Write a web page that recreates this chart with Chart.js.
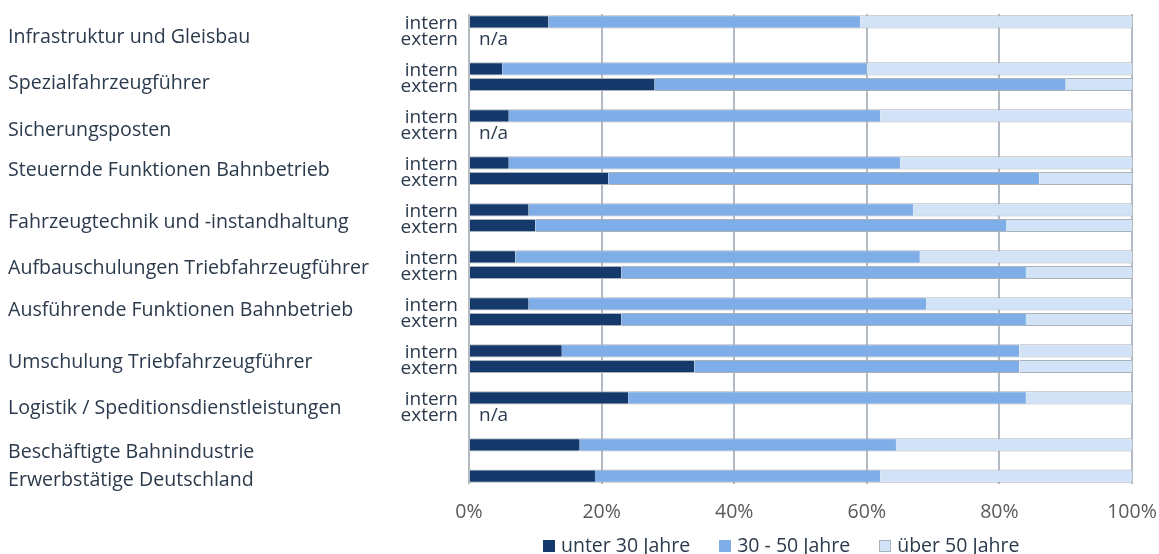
<!DOCTYPE html>
<html lang="de">
<head>
<meta charset="utf-8">
<title>Altersstruktur</title>
<script src="https://cdn.jsdelivr.net/npm/chart.js@4.4.1/dist/chart.umd.min.js"></script>
<style>
  body { margin: 0; background: #fff; font-family: 'Open Sans', sans-serif; }
  #wrap { position: relative; width: 1159px; height: 554px; }
  #legende { position: absolute; left: 543px; top: 532px; display: flex; font-size: 19.5px; color: #2b3a4c; line-height: 26px; }
  #legende .eintrag { display: flex; align-items: center; margin-right: 29px; }
  #legende .box { width: 12px; height: 12px; margin-right: 6px; margin-top: 2px; box-sizing: border-box; }
</style>
</head>
<body>
<div id="wrap">
  <canvas id="chartAlter" width="1159" height="554"></canvas>
  <div id="legende"></div>
</div>
<script>
// Tätigkeitsbereiche (jeweils intern / extern)
const bereiche = [
  'Infrastruktur und Gleisbau',
  'Spezialfahrzeugführer',
  'Sicherungsposten',
  'Steuernde Funktionen Bahnbetrieb',
  'Fahrzeugtechnik und -instandhaltung',
  'Aufbauschulungen Triebfahrzeugführer',
  'Ausführende Funktionen Bahnbetrieb',
  'Umschulung Triebfahrzeugführer',
  'Logistik / Speditionsdienstleistungen'
];

// Anteile in %, null = n/a
const internUnter30 = [12, 5, 6, 6, 9, 7, 9, 14, 24];
const intern30bis50 = [47, 55, 56, 59, 58, 61, 60, 69, 60];
const internUeber50 = [41, 40, 38, 35, 33, 32, 31, 17, 16];

const externUnter30 = [null, 28, null, 21, 10, 23, 23, 34, null];
const extern30bis50 = [null, 62, null, 65, 71, 61, 61, 49, null];
const externUeber50 = [null, 10, null, 14, 19, 16, 16, 17, null];

// Vergleichswerte
const vergleich = ['Beschäftigte Bahnindustrie', 'Erwerbstätige Deutschland'];
const vergleichUnter30 = [16.7, 19];
const vergleich30bis50 = [47.7, 43];
const vergleichUeber50 = [35.6, 38];

const xTicks = [0, 20, 40, 60, 80, 100];

const serien = ['unter 30 Jahre', '30 - 50 Jahre', 'über 50 Jahre'];
const farben = ['#15396b', '#7eade8', '#d3e3f7'];
const textFarbe = '#2b3a4c';

// Zeilen aufbauen: intern, extern, Leerzeile pro Bereich, danach die Vergleichszeilen
let zeilen = [];
let dUnter30 = [], d30bis50 = [], dUeber50 = [];
for (let i = 0; i < bereiche.length; i++) {
  zeilen.push('intern', 'extern', '');
  dUnter30.push(internUnter30[i], externUnter30[i], null);
  d30bis50.push(intern30bis50[i], extern30bis50[i], null);
  dUeber50.push(internUeber50[i], externUeber50[i], null);
}
for (let i = 0; i < vergleich.length; i++) {
  if (i > 0) {
    zeilen.push('');
    dUnter30.push(null); d30bis50.push(null); dUeber50.push(null);
  }
  zeilen.push('');
  dUnter30.push(vergleichUnter30[i]);
  d30bis50.push(vergleich30bis50[i]);
  dUeber50.push(vergleichUeber50[i]);
}

// Position der Bereichstitel (in Zeilen der y-Achse)
const titel = bereiche.concat(vergleich);
const titelPos = [0.98, 3.96, 6.94, 9.48, 12.79, 15.77, 18.41, 21.72, 24.7, 27.47, 29.28];

// Titel links und "n/a" bei fehlenden externen Werten
const beschriftung = {
  id: 'beschriftung',
  afterDraw(chart) {
    const ctx = chart.ctx;
    const sy = chart.scales.y;
    const sx = chart.scales.x;
    ctx.save();
    ctx.fillStyle = textFarbe;
    ctx.textBaseline = 'middle';
    ctx.textAlign = 'left';
    ctx.font = '19.6px "Open Sans"';
    titel.forEach(function (t, i) {
      ctx.fillText(t, 8, sy.getPixelForValue(titelPos[i]));
    });
    ctx.font = '19px "Open Sans"';
    zeilen.forEach(function (z, i) {
      if (z === 'extern' && dUnter30[i] === null) {
        ctx.fillText('n/a', sx.getPixelForValue(0) + 10, sy.getPixelForValue(i) + 2);
      }
    });
    ctx.restore();
  }
};

const datenReihen = [dUnter30, d30bis50, dUeber50];

const config = {
  type: 'bar',
  data: {
    labels: zeilen,
    datasets: serien.map(function (s, i) {
      return {
        label: s,
        data: datenReihen[i],
        backgroundColor: farben[i],
        borderColor: '#aab2bb',
        borderWidth: { top: 1, bottom: 1, left: 0, right: 0 },
        borderSkipped: false,
        categoryPercentage: 1,
        barPercentage: 0.84
      };
    })
  },
  options: {
    indexAxis: 'y',
    responsive: false,
    animation: false,
    devicePixelRatio: 1,
    layout: { padding: { top: 14, right: 27, left: 0, bottom: 0 } },
    plugins: {
      legend: { display: false },
      tooltip: { enabled: false }
    },
    scales: {
      x: {
        stacked: true,
        min: 0,
        max: 100,
        afterBuildTicks: function (s) { s.ticks = xTicks.map(function (v) { return { value: v }; }); },
        afterFit: function (s) { s.height = 70; s.paddingLeft = 0; s.paddingRight = 0; },
        grid: { color: '#b3bac2', lineWidth: 2, drawTicks: false },
        border: { display: false },
        ticks: {
          padding: 17,
          color: '#595959',
          font: { family: 'Open Sans', size: 19.5 },
          callback: function (v) { return v + '%'; }
        }
      },
      y: {
        stacked: true,
        afterFit: function (s) { s.width = 469; s.paddingTop = 0; s.paddingBottom = 0; },
        grid: { display: false, drawTicks: false },
        border: { display: false },
        ticks: {
          autoSkip: false,
          padding: 11,
          labelOffset: 2,
          color: textFarbe,
          font: { family: 'Open Sans', size: 19 }
        }
      }
    }
  },
  plugins: [beschriftung]
};

let chartAlter = new Chart(document.getElementById('chartAlter'), config);

// Legende unter dem Diagramm
const legende = document.getElementById('legende');
chartAlter.data.datasets.forEach(function (ds) {
  const eintrag = document.createElement('div');
  eintrag.className = 'eintrag';
  const box = document.createElement('span');
  box.className = 'box';
  box.style.background = ds.backgroundColor;
  box.style.border = '1px solid ' + (ds.backgroundColor === farben[2] ? '#a9b1ba' : ds.backgroundColor);
  const text = document.createElement('span');
  text.textContent = ds.label;
  eintrag.appendChild(box);
  eintrag.appendChild(text);
  legende.appendChild(eintrag);
});
</script>
</body>
</html>
